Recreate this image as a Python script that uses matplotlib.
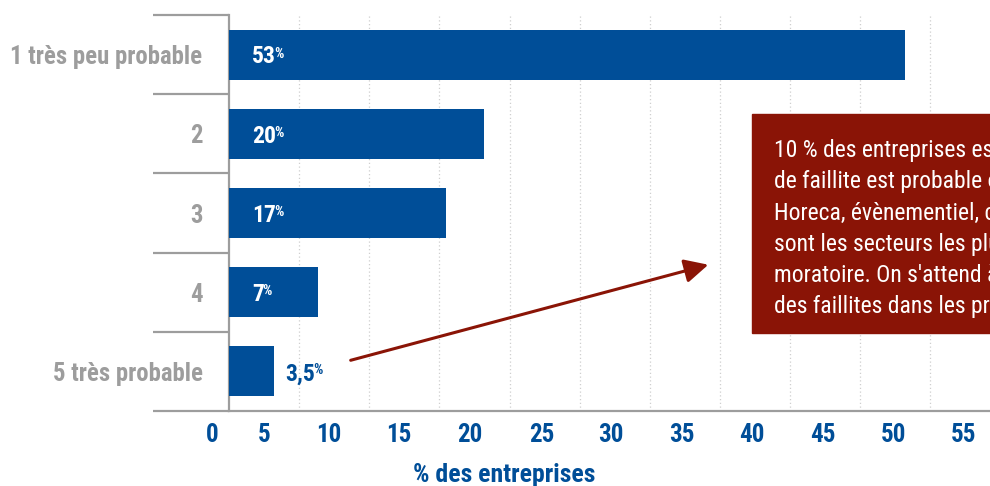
import matplotlib

matplotlib.use("Agg")
import matplotlib.pyplot as plt
from matplotlib.patches import FancyArrowPatch, Rectangle
from matplotlib.transforms import blended_transform_factory

# data
categories = ["1 très peu probable", "2", "3", "4", "5 très probable"]
values = [53, 20, 17, 7, 3.5]
value_labels = ["53", "20", "17", "7", "3,5"]
xtick_labels = ["0", "5", "10", "15", "20", "25", "30", "35", "40", "45", "50", "55"]
# where the (misaligned) tick labels sit on the bar scale
xtick_pos = [-1.33, 2.75, 7.84, 13.33, 18.9, 24.5, 29.96, 35.5, 41.0, 46.6, 52.1, 57.6]
grid_pos = [5.5 * i for i in range(1, 11)]
note_lines = [
    "10 % des entreprises estiment que le risque",
    "de faillite est probable ou très probable.",
    "Horeca, évènementiel, culture et commerce",
    "sont les secteurs les plus touchés après le",
    "moratoire. On s'attend à une augmentation",
    "des faillites dans les prochains mois.",
]

BLUE = "#004e98"
GREY = "#9d9d9d"
RED = "#8a1406"
FONT = ["Roboto Condensed", "Barlow Semi Condensed", "DejaVu Sans"]
plt.rcParams["font.family"] = FONT

W, H = 990, 486
fig = plt.figure(figsize=(W / 100, H / 100), dpi=100)


def fx(px):
    return px / W


def fy(py):
    return 1 - py / H


ax = fig.add_axes([fx(229), fy(411), fx(1000) - fx(229), fy(15) - fy(411)])
n = len(categories)
ypos = list(range(n))
ax.barh(ypos, values, height=0.63, color=BLUE, zorder=3)
ax.set_xlim(0, 60.47)
ax.set_ylim(n - 0.5, -0.5)

# dotted vertical grid
for g in grid_pos:
    ax.axvline(g, color="#cfcfcf", lw=0.9, ls=(0, (1, 2)), zorder=1)

for s in ["top", "right"]:
    ax.spines[s].set_visible(False)
for s in ["left", "bottom"]:
    ax.spines[s].set_color(GREY)
    ax.spines[s].set_linewidth(1.6)

# category boundaries as long ticks, labels on minor ticks
ax.set_yticks([i - 0.5 for i in range(n + 1)])
ax.set_yticklabels([])
ax.tick_params(axis="y", which="major", length=55, width=1.6, color=GREY)
ax.set_yticks(ypos, categories, minor=True)
ax.tick_params(axis="y", which="minor", length=0, pad=19)
for lab in ax.get_yticklabels(minor=True):
    lab.set_fontsize(17.8)
    lab.set_fontweight("bold")
    lab.set_color(GREY)

ax.set_xticks([])
trans = blended_transform_factory(ax.transData, ax.transAxes)
for p, lab in zip(xtick_pos, xtick_labels):
    ax.text(p, -0.061, lab, transform=trans, ha="center", va="center",
            fontsize=18, fontweight="bold", color=BLUE, clip_on=False)

# value labels with small superscript %
for y, v, lab in zip(ypos, values, value_labels):
    inside = v > 5
    x = 1.8 if inside else v + 0.9
    col = "white" if inside else BLUE
    t = ax.text(x, y + 0.03, lab, ha="left", va="center", fontsize=17,
                fontweight="bold", color=col, zorder=4)
    ax.annotate("%", xy=(1.0, 1.0), xycoords=t, xytext=(-1.2, -0.8), textcoords="offset points",
                ha="left", va="top", fontsize=10.5, fontweight="bold", color=col, zorder=4)

fig.text(fx(504), fy(475), "% des entreprises", ha="center", va="center",
         fontsize=18.5, fontweight="bold", color=BLUE)

# note box (runs off the right edge)
fig.add_artist(Rectangle((fx(752), fy(333)), 1.0, fy(114) - fy(333),
                         transform=fig.transFigure, color=RED, zorder=5))
fig.add_artist(plt.Text(fx(774), fy(139), "\n".join(note_lines), ha="left", va="top",
                        fontsize=17, color="white", linespacing=1.46, zorder=6,
                        transform=fig.transFigure))

fig.add_artist(FancyArrowPatch(
    (fx(348), fy(361)), (fx(711), fy(264)), transform=fig.transFigure,
    arrowstyle="-|>,head_length=0.9,head_width=0.45", mutation_scale=16,
    color=RED, lw=2.2, zorder=6))

fig.savefig("out.png", dpi=100)
